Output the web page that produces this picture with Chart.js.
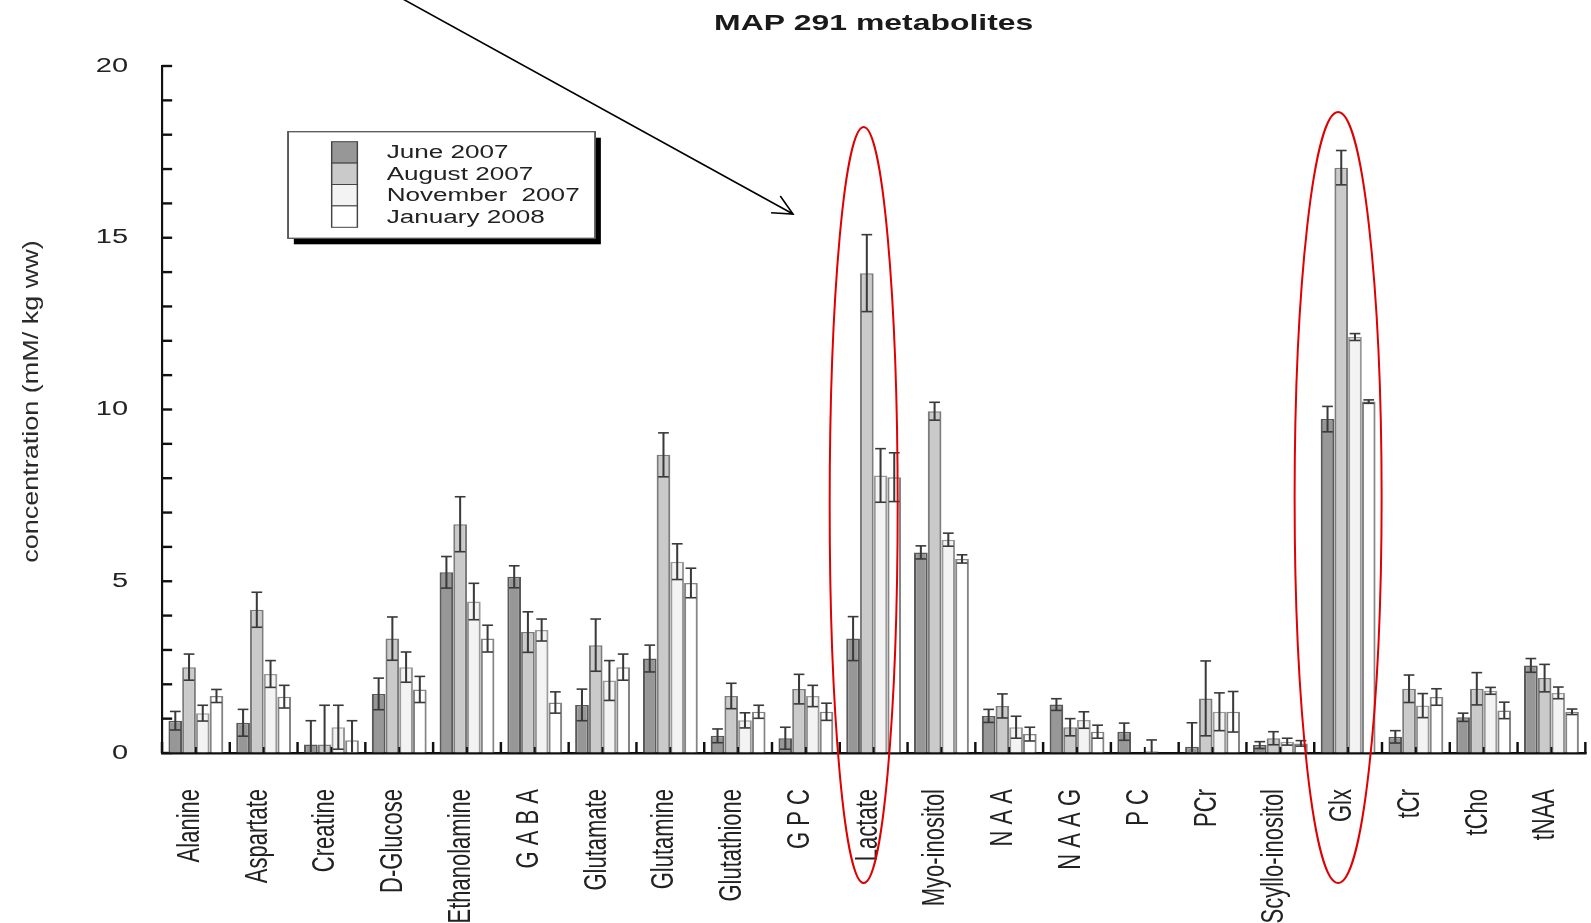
<!DOCTYPE html>
<html><head><meta charset="utf-8">
<script src="https://cdn.jsdelivr.net/npm/chart.js@4/dist/chart.umd.min.js"></script>
<style>html,body{margin:0;padding:0;background:#fff;overflow:hidden}canvas{display:block}</style>
</head><body>
<canvas id="c" width="1097" height="923"></canvas>
<script>
// ---- data ----
const chartTitle = 'MAP 291 metabolites';
const yAxisTitle = 'concentration (mM/ kg ww)';
const categories = ['Alanine','Aspartate','Creatine','D-Glucose','Ethanolamine','G A B A','Glutamate','Glutamine','Glutathione','G P C','Lactate','Myo-inositol','N A A','N A A G','P C','PCr','Scyllo-inositol','Glx','tCr','tCho','tNAA'];
const seriesNames = ['June 2007','August 2007','November  2007','January 2008'];
const june    = [0.94,0.88,0.25,1.72,5.26,5.13,1.40,2.75,0.50,0.43,3.33,5.84,1.08,1.41,0.62,0.18,0.23,9.72,0.47,1.04,2.55];
const juneErr = [0.27,0.39,0.69,0.46,0.46,0.32,0.46,0.39,0.20,0.32,0.64,0.19,0.19,0.17,0.25,0.70,0.10,0.37,0.18,0.12,0.20];
const aug     = [2.50,4.17,0.25,3.33,6.66,3.52,3.14,8.68,1.66,1.86,13.97,9.95,1.37,0.75,0,1.59,0.43,17.04,1.87,1.87,2.18];
const augErr  = [0.38,0.51,1.14,0.63,0.80,0.59,0.76,0.64,0.37,0.43,1.12,0.26,0.35,0.25,0,1.09,0.19,0.50,0.40,0.47,0.40];
const nov     = [1.16,2.30,0.75,2.50,4.41,3.58,2.11,5.57,0.95,1.66,8.08,6.21,0.75,0.96,0.05,1.20,0.33,12.11,1.38,1.81,1.75];
const novErr  = [0.23,0.39,0.64,0.44,0.53,0.32,0.58,0.52,0.22,0.31,0.78,0.19,0.32,0.24,0.33,0.55,0.10,0.10,0.35,0.10,0.17];
const jan     = [1.66,1.64,0.37,1.85,3.33,1.47,2.50,4.95,1.20,1.20,8.03,5.65,0.55,0.62,0,1.20,0.28,10.23,1.63,1.24,1.20];
const janErr  = [0.19,0.33,0.57,0.38,0.39,0.31,0.38,0.43,0.19,0.25,0.71,0.12,0.20,0.19,0,0.59,0.08,0.05,0.24,0.24,0.08];
const yTicks = [0,5,10,15,20];
const highlighted = ['Lactate','Glx'];

// ---- styles ----
const fills   = ['#979797','#cacaca','#f3f3f3','#ffffff'];
const borders = ['#5a5a5a','#7c7c7c','#9a9a9a','#858585'];
const FONT = '"Liberation Sans", Arial, Helvetica, sans-serif';
const SX = 1591/1097;   // horizontal stretch of the reference picture

const values = [june, aug, nov, jan];
const errors = [juneErr, augErr, novErr, janErr];

const stretch = {
  id:'stretch',
  beforeDraw(chart){ chart.ctx.setTransform(SX,0,0,1,0,0); }
};

const decor = {
  id:'decor',
  beforeDatasetsDraw(chart){
    const ctx = chart.ctx, ca = chart.chartArea, y = chart.scales.y;
    ctx.save();
    ctx.strokeStyle = '#111';
    ctx.lineWidth = 2.4;
    for (let v = 0; v <= 20; v++) {
      const py = y.getPixelForValue(v);
      ctx.beginPath(); ctx.moveTo(ca.left, py); ctx.lineTo(ca.left + 7, py); ctx.stroke();
    }
    ctx.restore();
  },
  afterDatasetsDraw(chart){
    const ctx = chart.ctx, ca = chart.chartArea, y = chart.scales.y, x = chart.scales.x;
    ctx.save();
    ctx.strokeStyle = '#3a3a3a';
    values.forEach((vals, d) => {
      const meta = chart.getDatasetMeta(d);
      meta.data.forEach((el, i) => {
        const e = errors[d][i];
        if (!e) return;
        const v = vals[i];
        const yt = y.getPixelForValue(v + e);
        const yb = y.getPixelForValue(Math.max(v - e, 0));
        ctx.lineWidth = 1.4;
        ctx.beginPath(); ctx.moveTo(el.x, yt); ctx.lineTo(el.x, yb); ctx.stroke();
        ctx.lineWidth = 1.6;
        ctx.beginPath(); ctx.moveTo(el.x - 3.7, yt); ctx.lineTo(el.x + 3.7, yt); ctx.stroke();
        if (v - e > 0) { ctx.beginPath(); ctx.moveTo(el.x - 3.7, yb); ctx.lineTo(el.x + 3.7, yb); ctx.stroke(); }
      });
    });
    ctx.restore();
    const cw = x.getPixelForValue(1) - x.getPixelForValue(0);
    ctx.save();
    ctx.strokeStyle = '#111';
    for (let i = 0; i <= categories.length; i++) {
      const px = x.getPixelForValue(0) - cw/2 + i*cw;
      ctx.lineWidth = 1.7;
      ctx.beginPath(); ctx.moveTo(px, ca.bottom); ctx.lineTo(px, ca.bottom - 11); ctx.stroke();
      if (i < categories.length) {
        ctx.lineWidth = 1.3;
        ctx.beginPath(); ctx.moveTo(px + cw/2, ca.bottom); ctx.lineTo(px + cw/2, ca.bottom - 6); ctx.stroke();
      }
    }
    ctx.restore();
  },
  afterDraw(chart){
    const ctx = chart.ctx, ca = chart.chartArea, x = chart.scales.x;
    ctx.save();
    ctx.fillStyle = '#1a1a1a';
    ctx.font = 'bold 22px ' + FONT;
    ctx.textAlign = 'center'; ctx.textBaseline = 'middle';
    ctx.fillText(chartTitle, (ca.left + ca.right)/2, 24);
    ctx.translate(21.7, 401.5);
    ctx.rotate(-Math.PI/2);
    ctx.scale(1, 0.57);
    ctx.font = '27px ' + FONT;
    ctx.fillStyle = '#2a2a2a';
    ctx.fillText(yAxisTitle, 0, 0);
    ctx.restore();

    ctx.save();
    const bx = 198.6, by = 131.7, bw = 211.7, bh = 106.6;
    ctx.fillStyle = '#000';
    ctx.fillRect(bx + 4, by + 6, bw, bh);
    ctx.fillStyle = '#fff';
    ctx.fillRect(bx, by, bw, bh);
    ctx.strokeStyle = '#555'; ctx.lineWidth = 1.3;
    ctx.strokeRect(bx, by, bw, bh);
    const sx = 228.7, sw = 17.7, sh = 21.4, sy = 141.7;
    ctx.font = '18px ' + FONT;
    ctx.textAlign = 'left'; ctx.textBaseline = 'middle';
    seriesNames.forEach((n, k) => {
      ctx.fillStyle = fills[k];
      ctx.fillRect(sx, sy + k*sh, sw, sh);
      ctx.strokeStyle = '#444'; ctx.lineWidth = 1;
      ctx.strokeRect(sx, sy + k*sh, sw, sh);
      ctx.fillStyle = '#222';
      ctx.fillText(n, 266.6, sy + k*sh + sh/2 + 1);
    });
    ctx.restore();

    ctx.save();
    ctx.setTransform(1,0,0,1,0,0);
    ctx.strokeStyle = '#e00000'; ctx.lineWidth = 2;
    highlighted.forEach(name => {
      const i = categories.indexOf(name);
      const cx = (x.getPixelForValue(i)) * SX - 10;
      const rx = name === 'Glx' ? 43.5 : 34;
      const top = name === 'Glx' ? 112 : 127;
      const bot = 883;
      ctx.beginPath();
      ctx.ellipse(cx, (top + bot)/2, rx, (bot - top)/2, 0, 0, Math.PI*2);
      ctx.stroke();
    });
    const x0 = 401, y0 = -2, x1 = 793, y1 = 214;
    ctx.strokeStyle = '#000'; ctx.lineWidth = 1.6;
    ctx.beginPath(); ctx.moveTo(x0, y0); ctx.lineTo(x1, y1); ctx.stroke();
    const ang = Math.atan2(y1 - y0, x1 - x0);
    const L = 22, a = 0.45;
    ctx.beginPath();
    ctx.moveTo(x1 - L*Math.cos(ang - a), y1 - L*Math.sin(ang - a));
    ctx.lineTo(x1, y1);
    ctx.lineTo(x1 - L*Math.cos(ang + a), y1 - L*Math.sin(ang + a));
    ctx.stroke();
    ctx.restore();
  }
};

const chart = new Chart(document.getElementById('c'), {
  type: 'bar',
  data: {
    labels: categories,
    datasets: seriesNames.map((n, k) => ({
      label: n,
      data: values[k],
      backgroundColor: fills[k],
      borderColor: borders[k],
      borderWidth: 1.5,
      categoryPercentage: 0.81,
      barPercentage: 1.0
    }))
  },
  options: {
    responsive: false,
    animation: false,
    devicePixelRatio: 1,
    layout: { padding: { top: 66, right: 3.9, bottom: 0, left: 0 } },
    plugins: { legend: { display: false }, title: { display: false }, tooltip: { enabled: false } },
    scales: {
      x: {
        grid: { drawOnChartArea: false, drawTicks: false },
        border: { display: true, color: '#111', width: 2.4 },
        ticks: {
          autoSkip: false, minRotation: 90, maxRotation: 90, padding: 36, labelOffset: -4,
          color: '#222', font: { family: FONT, size: 22 }
        },
        afterFit(s){ s.height = 170; s.paddingLeft = 0; s.paddingRight = 0; }
      },
      y: {
        min: 0, max: 20,
        grid: { drawOnChartArea: false, drawTicks: false },
        border: { display: true, color: '#111', width: 1.5 },
        ticks: { padding: 23.4, color: '#222', font: { family: FONT, size: 20 } },
        afterBuildTicks(s){ s.ticks = yTicks.map(v => ({ value: v })); },
        afterFit(s){ s.width = 111.7; s.paddingTop = 0; s.paddingBottom = 0; }
      }
    }
  },
  plugins: [stretch, decor]
});

const cv = chart.canvas;
cv.width = 1591; cv.height = 923;
cv.style.width = '1591px'; cv.style.height = '923px';
chart.draw();
</script>
</body></html>
